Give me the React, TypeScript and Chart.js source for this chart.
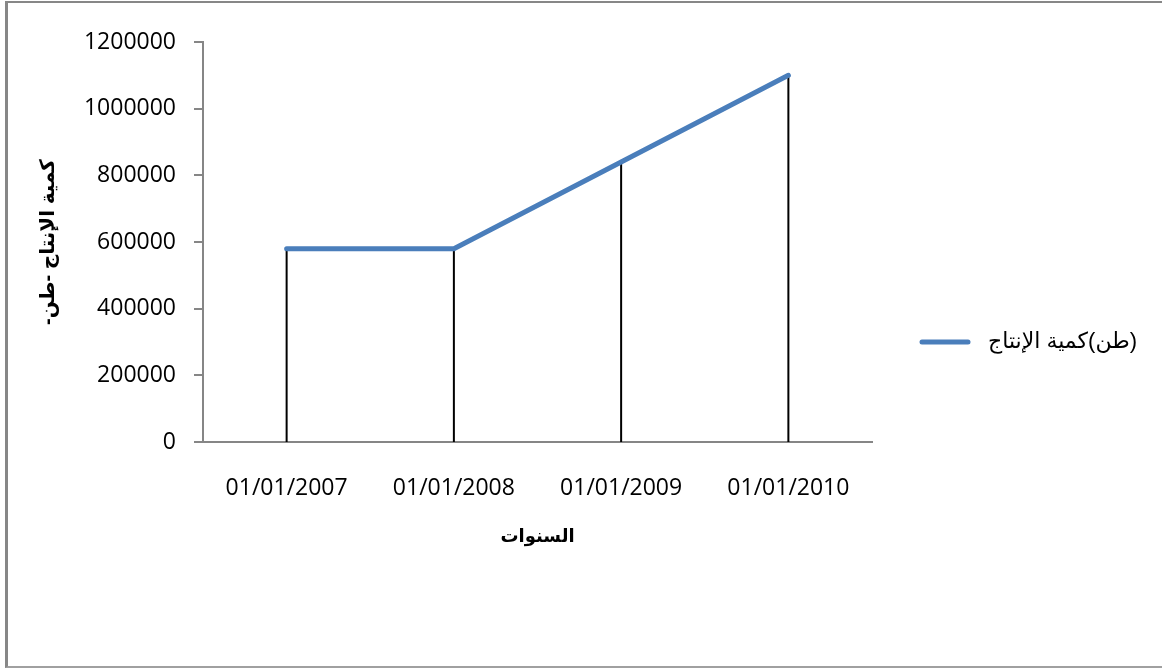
import React, { useEffect, useRef } from "react";
import { Chart, registerables } from "chart.js";

Chart.register(...registerables);

// ---- data ----
const categories = ["01/01/2007", "01/01/2008", "01/01/2009", "01/01/2010"];
const production = [580000, 580000, 840000, 1100000];
const seriesLabel = "(طن)كمية الإنتاج";
const yAxisTitle = "كمية الإنتاج -طن-";
const xAxisTitle = "السنوات";
const yMin = 0;
const yMax = 1200000;
const yStep = 200000;

const LINE_COLOR = "#4a7ebb";
const AXIS_COLOR = "#868686";
const RLM = "\u200F";

const dropLines = {
  id: "dropLines",
  beforeDatasetsDraw(chart: any) {
    const { ctx } = chart;
    const yScale = chart.scales.y;
    const base = yScale.getPixelForValue(0);
    const meta = chart.getDatasetMeta(0);
    ctx.save();
    ctx.strokeStyle = "#000000";
    ctx.lineWidth = 2;
    meta.data.forEach((pt: any) => {
      ctx.beginPath();
      ctx.moveTo(pt.x, pt.y);
      ctx.lineTo(pt.x, base);
      ctx.stroke();
    });
    ctx.restore();
  },
};

const sideLegend = {
  id: "sideLegend",
  afterDraw(chart: any) {
    const { ctx, chartArea } = chart;
    const ds = chart.data.datasets[0];
    const y = (chartArea.top + chartArea.bottom) / 2 + 100;
    const x0 = chartArea.right + 50;
    ctx.save();
    ctx.strokeStyle = ds.borderColor;
    ctx.lineWidth = 5;
    ctx.lineCap = "round";
    ctx.beginPath();
    ctx.moveTo(x0, y);
    ctx.lineTo(x0 + 46, y);
    ctx.stroke();
    ctx.fillStyle = "#000000";
    ctx.font = '22px "Liberation Sans", "DejaVu Sans", sans-serif';
    ctx.textBaseline = "middle";
    (ctx as any).direction = "rtl";
    ctx.textAlign = "right";
    const w = ctx.measureText(ds.label).width;
    ctx.fillText(ds.label, x0 + 66 + w, y);
    ctx.restore();
  },
};

export default function App() {
  const canvasRef = useRef<HTMLCanvasElement | null>(null);

  useEffect(() => {
    document.body.style.margin = "0";
    const canvas = canvasRef.current;
    if (!canvas) return;
    const chart = new Chart(canvas, {
      type: "line",
      data: {
        labels: categories,
        datasets: [
          {
            label: seriesLabel,
            data: production,
            borderColor: LINE_COLOR,
            backgroundColor: LINE_COLOR,
            borderWidth: 5,
            borderCapStyle: "round",
            borderJoinStyle: "round",
            pointRadius: 0,
            pointHoverRadius: 0,
            tension: 0,
            fill: false,
          },
        ],
      },
      options: {
        responsive: false,
        animation: false,
        devicePixelRatio: 1,
        layout: { padding: { left: 0, top: 42, right: 290, bottom: 116 } },
        plugins: {
          legend: { display: false },
          tooltip: { enabled: false },
          title: { display: false },
        },
        scales: {
          x: {
            type: "category",
            offset: true,
            grid: { display: false, drawTicks: false },
            border: { display: true, color: AXIS_COLOR, width: 2 },
            ticks: {
              color: "#000000",
              padding: 33,
              maxRotation: 0,
              font: { family: '"Open Sans", sans-serif', size: 23 },
            },
            title: {
              display: true,
              text: RLM + xAxisTitle + RLM,
              color: "#000000",
              font: { family: '"Liberation Sans", "DejaVu Sans", sans-serif', size: 18, weight: "bold" },
              padding: { top: 0, bottom: 4 },
            },
            afterFit(scale: any) {
              scale.height = 110;
            },
          },
          y: {
            min: yMin,
            max: yMax,
            grid: {
              display: true,
              drawOnChartArea: false,
              drawTicks: true,
              tickLength: 9,
              color: AXIS_COLOR,
              lineWidth: 2,
            },
            border: { display: true, color: AXIS_COLOR, width: 2 },
            ticks: {
              stepSize: yStep,
              color: "#000000",
              padding: 18,
              font: { family: '"Open Sans", sans-serif', size: 23 },
              callback: (v: any) => String(v),
            },
            title: {
              display: true,
              text: RLM + yAxisTitle + RLM,
              color: "#000000",
              font: { family: '"Liberation Sans", "DejaVu Sans", sans-serif', size: 20, weight: "bold" },
              padding: { top: 36, bottom: 0 },
            },
            afterFit(scale: any) {
              scale.width = 203;
            },
          },
        },
      },
      plugins: [dropLines, sideLegend],
    } as any);
    return () => chart.destroy();
  }, []);

  return (
    <div style={{ position: "relative", width: 1162, height: 668, overflow: "hidden", background: "#ffffff" }}>
      <div
        style={{
          position: "absolute",
          left: 5,
          top: 1,
          width: 1300,
          height: 663,
          borderTop: "2px solid #878787",
          borderLeft: "3px solid #878787",
          borderBottom: "2px solid #a0a0a0",
        }}
      />
      <canvas
        ref={canvasRef}
        width={1162}
        height={668}
        style={{ position: "absolute", left: 0, top: 0, width: 1162, height: 668 }}
      />
    </div>
  );
}
